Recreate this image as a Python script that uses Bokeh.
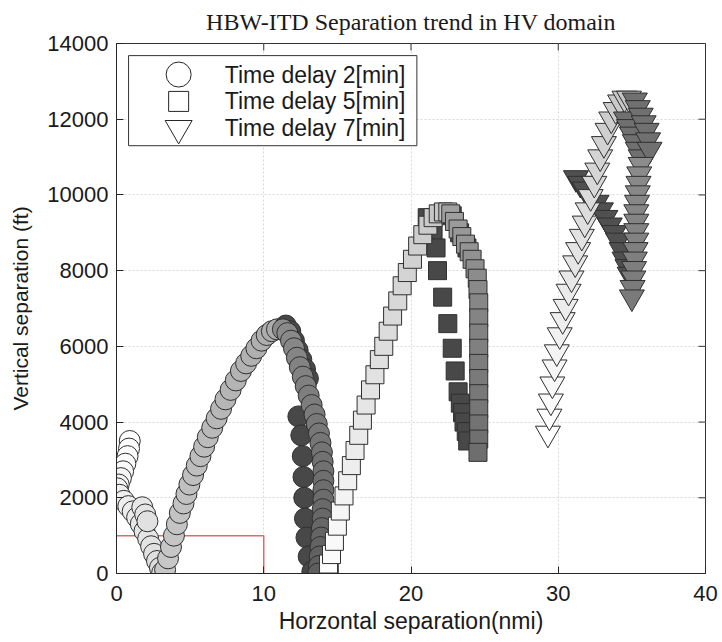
import numpy as np
from bokeh.plotting import figure
from bokeh.models import FixedTicker, Range1d
from bokeh.embed import file_html
from bokeh.resources import INLINE
from bokeh.core.properties import value

# ---------------- data ----------------
title_text = "HBW-ITD Separation trend in HV domain"
x_label = "Horzontal separation(nmi)"
y_label = "Vertical separation (ft)"
x_ticks = [0, 10, 20, 30, 40]
y_ticks = [0, 2000, 4000, 6000, 8000, 10000, 12000, 14000]
legend_labels = ["Time delay 2[min]", "Time delay 5[min]", "Time delay 7[min]"]

# red protection box (10 nmi x 1000 ft)
red_x = [0, 10, 10]
red_y = [1000, 1000, 0]

# Time delay 2 [min] (circles)
c2_start_x = [0.9, 0.85, 0.75, 0.6, 0.45, 0.3, 0.15, 0.05, 0.2, 0.5, 0.8, 1.1, 1.4, 1.65, 1.9, 2.15, 2.35, 2.55, 2.75, 2.95, 3.1]
c2_start_y = [3500, 3300, 3100, 2900, 2700, 2520, 2350, 2250, 2080, 1920, 1780, 1640, 1480, 1310, 1120, 920, 720, 520, 330, 150, 20]
c2_bump_x = [1.75, 1.95, 2.1]
c2_bump_y = [1750, 1560, 1380]
c2_rise_x = [3.3, 3.5, 3.7, 3.9, 4.1, 4.3, 4.55, 4.75, 4.95, 5.2, 5.45, 5.7, 5.95, 6.2, 6.5, 6.8, 7.1, 7.4, 7.75, 8.1, 8.45, 8.8, 9.15, 9.5, 9.85, 10.2, 10.55, 10.9]
c2_rise_y = [100, 400, 700, 1000, 1300, 1600, 1850, 2100, 2350, 2600, 2850, 3100, 3350, 3600, 3850, 4100, 4350, 4600, 4850, 5100, 5350, 5550, 5750, 5950, 6150, 6300, 6400, 6450]
c2_dark_x = [11.5, 11.8, 12.05, 12.3, 12.55, 12.8, 13.0, 12.35, 12.55, 12.65, 12.7, 12.75, 12.8, 12.9, 13.05, 13.3]
c2_dark_y = [6550, 6400, 6150, 5900, 5650, 5400, 5150, 4150, 3650, 3100, 2550, 2000, 1450, 950, 450, 50]
c2_fall_x = [11.3, 11.6, 11.85, 12.05, 12.25, 12.45, 12.65, 12.85, 13.05, 13.25, 13.45, 13.6, 13.75, 13.85, 13.95, 14.0, 14.05, 14.05, 14.05, 14.05, 14.0, 14.0, 13.95, 13.9, 13.85, 13.8, 13.75, 13.7]
c2_fall_y = [6450, 6350, 6150, 5950, 5700, 5450, 5200, 4950, 4700, 4450, 4200, 3950, 3700, 3450, 3200, 2950, 2700, 2450, 2200, 1950, 1700, 1450, 1200, 950, 700, 450, 200, 0]

# Time delay 5 [min] (squares)
s5_dark_x = [21.1, 21.5, 21.7, 21.8, 22.15, 22.5, 22.8, 23.0, 23.2, 23.35, 23.5, 23.6, 23.75, 23.85, 22.8, 23.3, 23.8]
s5_dark_y = [9400, 9000, 8600, 8000, 7300, 6600, 5950, 5350, 4800, 4500, 4250, 4000, 3750, 3500, 9450, 9000, 8600]
s5_rise_x = [14.45, 14.4, 14.6, 14.8, 15.0, 15.2, 15.45, 15.7, 15.95, 16.2, 16.45, 16.7, 16.95, 17.25, 17.55, 17.85, 18.15, 18.45, 18.75, 19.1, 19.4, 19.75, 20.1, 20.45, 20.8, 21.15, 21.5, 21.85, 22.2, 22.5]
s5_rise_y = [50, 250, 500, 850, 1250, 1650, 2050, 2450, 2850, 3250, 3650, 4050, 4450, 4850, 5250, 5650, 6000, 6400, 6800, 7200, 7600, 7950, 8300, 8650, 8950, 9200, 9400, 9500, 9550, 9550]
s5_fall_x = [22.7, 22.95, 23.2, 23.45, 23.7, 23.95, 24.15, 24.35, 24.5, 24.55, 24.6, 24.6, 24.6, 24.6, 24.6, 24.6, 24.6, 24.6, 24.6, 24.6, 24.55]
s5_fall_y = [9500, 9300, 9100, 8900, 8700, 8500, 8300, 8050, 7800, 7500, 7150, 6750, 6350, 5950, 5550, 5150, 4750, 4350, 3950, 3550, 3200]

# Time delay 7 [min] (triangles)
t7_dark_x = [31.2, 31.5, 31.8, 32.6, 32.9, 33.2, 33.5, 33.8, 34.05, 34.3, 34.5, 34.7, 34.85]
t7_dark_y = [10450, 10300, 10150, 9800, 9600, 9400, 9200, 9000, 8800, 8550, 8300, 8100, 7900]
t7_rise_x = [29.3, 29.4, 29.5, 29.6, 29.75, 29.9, 30.1, 30.3, 30.5, 30.7, 30.9, 31.15, 31.35, 31.6, 31.8, 32.0, 32.2, 32.45, 32.65, 32.85, 33.1, 33.35, 33.6, 33.9, 34.2, 34.5, 34.8]
t7_rise_y = [3700, 4150, 4550, 5000, 5450, 5850, 6300, 6700, 7050, 7450, 7800, 8200, 8550, 8900, 9250, 9600, 9950, 10300, 10650, 11000, 11350, 11700, 12000, 12250, 12450, 12550, 12550]
t7_band_x = [34.6, 34.8, 35.0, 35.2, 35.4, 35.6, 35.2, 35.4, 35.6, 35.8, 36.0, 36.1, 36.2]
t7_band_y = [12000, 11800, 11600, 11400, 11200, 11000, 12500, 12300, 12100, 11900, 11700, 11450, 11200]
t7_fall_x = [35.6, 35.5, 35.45, 35.4, 35.35, 35.3, 35.3, 35.3, 35.3, 35.25, 35.2, 35.15, 35.1, 35.05, 35.0]
t7_fall_y = [10800, 10550, 10300, 10050, 9800, 9550, 9300, 9050, 8800, 8550, 8300, 8050, 7800, 7550, 7300]


def grays(n, start, end):
    lv = np.linspace(start, end, n).round().astype(int)
    return ["#%02x%02x%02x" % (v, v, v) for v in lv]


X0, X1, Y0, Y1 = 0, 40, 0, 14000
p = figure(width=722, height=642, x_range=Range1d(X0, X1), y_range=Range1d(Y0, Y1),
           output_backend="svg", toolbar_location=None,
           min_border_left=116, min_border_right=17, min_border_top=43, min_border_bottom=69,
           title=title_text)
p.background_fill_color = "white"
p.border_fill_color = "white"
p.outline_line_color = "#333333"
p.title.text_font = "Liberation Serif"
p.title.text_font_style = "normal"
p.title.text_font_size = "24px"
p.title.text_color = "#1a1a1a"
p.title.align = "center"
p.title.vertical_align = "top"
p.title.standoff = 14
p.title.offset = 0

FONT = "Liberation Sans"
for ax in (p.xaxis[0], p.yaxis[0]):
    ax.major_tick_in = 7
    ax.major_tick_out = 0
    ax.minor_tick_line_color = None
    ax.axis_line_color = "#262626"
    ax.major_tick_line_color = "#262626"
    ax.major_label_text_font = FONT
    ax.major_label_text_font_size = "22px"
    ax.major_label_text_color = "#1a1a1a"
    ax.axis_label_text_font = FONT
    ax.axis_label_text_font_style = "normal"
    ax.axis_label_text_color = "#1a1a1a"
p.xaxis[0].ticker = FixedTicker(ticks=x_ticks)
p.yaxis[0].ticker = FixedTicker(ticks=y_ticks)
p.xaxis[0].axis_label = x_label
p.yaxis[0].axis_label = y_label
p.xaxis[0].axis_label_text_font_size = "23px"
p.yaxis[0].axis_label_text_font_size = "21px"
p.xaxis[0].major_label_standoff = 12
p.xaxis[0].axis_label_standoff = 4
p.yaxis[0].major_label_standoff = 8
p.yaxis[0].axis_label_standoff = 12

p.grid.grid_line_color = "#d8d8d8"
p.grid.grid_line_dash = "2 2"

# inward ticks on the top and right edges of the box (7 px long)
tick_dx = 7 * (X1 - X0) / 589.0
tick_dy = 7 * (Y1 - Y0) / 530.0
p.segment(x0=x_ticks, y0=[Y1] * len(x_ticks), x1=x_ticks, y1=[Y1 - tick_dy] * len(x_ticks),
          line_color="#333333", line_width=1)
p.segment(x0=[X1] * len(y_ticks), y0=y_ticks, x1=[X1 - tick_dx] * len(y_ticks), y1=y_ticks,
          line_color="#333333", line_width=1)

# red box
p.line(red_x, red_y, line_color="#e06a6a", line_width=1.5)

OUT = "#303030"

def draw(xs, ys, marker, size, c0, c1):
    p.scatter(xs, ys, marker=marker, size=size, fill_color=grays(len(xs), c0, c1),
              line_color=OUT, line_width=1)

# circles
draw(c2_start_x, c2_start_y, "circle", 21, 255, 220)
draw(c2_bump_x, c2_bump_y, "circle", 21, 232, 225)
draw(c2_rise_x, c2_rise_y, "circle", 21, 200, 172)
draw(c2_dark_x, c2_dark_y, "circle", 21, 72, 72)
draw(c2_fall_x, c2_fall_y, "circle", 21, 140, 94)

# squares
draw(s5_dark_x, s5_dark_y, "square", 18, 72, 72)
draw(s5_rise_x, s5_rise_y, "square", 18, 255, 195)
draw(s5_fall_x, s5_fall_y, "square", 18, 160, 110)

# triangles
draw(t7_dark_x, t7_dark_y, "inverted_triangle", 25, 80, 80)
draw(t7_rise_x, t7_rise_y, "inverted_triangle", 25, 255, 196)
draw(t7_band_x, t7_band_y, "inverted_triangle", 25, 112, 112)
draw(t7_fall_x, t7_fall_y, "inverted_triangle", 25, 140, 122)

# legend box (drawn in plot coordinates)
p.quad(left=[0.82], right=[20.4], top=[13680], bottom=[11300],
       fill_color="white", line_color="#333333", line_width=1)
leg_markers = ["circle", "square", "inverted_triangle"]
leg_sizes = [25, 20, 27]
leg_y = [13180, 12470, 11760]
for mk, sz, yy in zip(leg_markers, leg_sizes, leg_y):
    p.scatter([4.22], [yy], marker=mk, size=sz, fill_color="white", line_color="#262626", line_width=1)
p.text(x=[7.35] * 3, y=leg_y, text=legend_labels, text_font=value(FONT), text_font_size="23px",
       text_baseline="middle", text_align="left", text_color="#1a1a1a")

open("out.html", "w").write(file_html(p, INLINE))
